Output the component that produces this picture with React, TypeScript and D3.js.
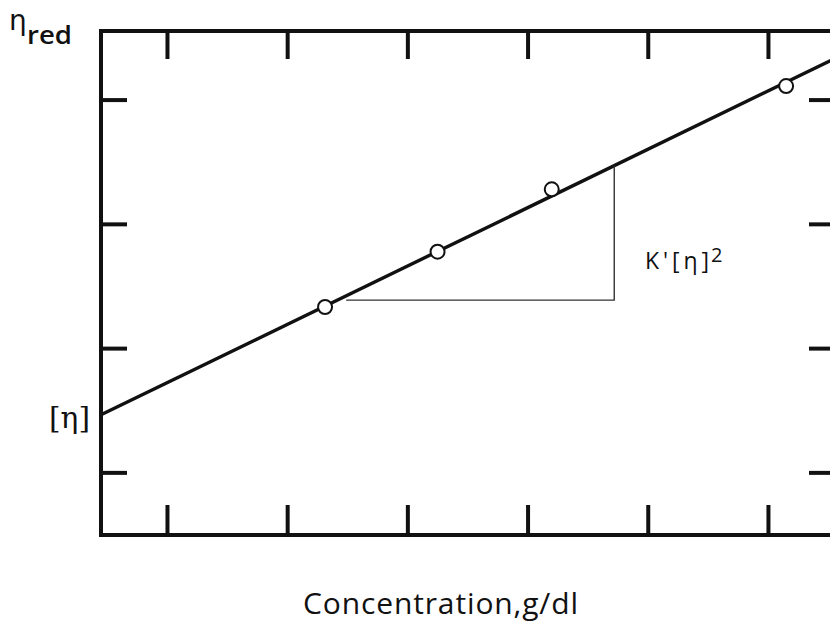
import React from "react";
import * as d3 from "d3";

// Concentration (arbitrary units, one tick spacing = 1) and reduced viscosity (tick units)
const xTicks = [0.553, 1.553, 2.553, 3.553, 4.553, 5.553];
const yTicks = [1, 2, 3, 4];
const pointsC = [1.864, 2.8, 3.75, 5.7];
const pointsEta = [2.335, 2.78, 3.282, 4.113];
const fitIntercept = 1.467;
const fitSlope = 0.4696;
const fitRange = [0, 6.1];
const triangleC = [2.04, 4.27];
const triangleBase = 2.39;

const W = 830;
const H = 624;

export default function App() {
  const x = d3.scaleLinear().domain([0, 6.09]).range([101, 833]);
  const y = d3.scaleLinear().domain([0.5, 4.556]).range([535, 31]);
  const fit = (c: number) => fitIntercept + fitSlope * c;
  const line = d3
    .line<number>()
    .x((c) => x(c))
    .y((c) => y(fit(c)));
  const ink = "#111";
  const [x0, x1] = x.range();
  const [yb, yt] = y.range();
  return (
    <svg
      width={W}
      height={H}
      style={{ position: "absolute", left: 0, top: 0, background: "#fff" }}
    >
      <rect x={0} y={0} width={W} height={H} fill="#fff" />
      {/* fit line */}
      <path d={line(fitRange) || ""} fill="none" stroke={ink} strokeWidth={3.4} />
      {/* slope triangle */}
      <path
        d={`M${x(triangleC[0])},${y(triangleBase)}H${x(triangleC[1])}V${y(fit(triangleC[1]))}`}
        fill="none"
        stroke="#333"
        strokeWidth={1.4}
      />
      {/* frame */}
      <rect
        x={x0}
        y={yt}
        width={x1 - x0}
        height={yb - yt}
        fill="none"
        stroke={ink}
        strokeWidth={4}
      />
      {xTicks.map((t) => (
        <g key={"xt" + t}>
          <line x1={x(t)} x2={x(t)} y1={yt} y2={yt + 28} stroke={ink} strokeWidth={4} />
          <line x1={x(t)} x2={x(t)} y1={yb} y2={yb - 30} stroke={ink} strokeWidth={4} />
        </g>
      ))}
      {yTicks.map((t) => (
        <g key={"yt" + t}>
          <line x1={x0} x2={x0 + 26} y1={y(t)} y2={y(t)} stroke={ink} strokeWidth={4} />
          <line x1={x1} x2={x1 - 24} y1={y(t)} y2={y(t)} stroke={ink} strokeWidth={4} />
        </g>
      ))}
      {/* data points */}
      {pointsC.map((c, i) => (
        <circle
          key={"p" + i}
          cx={x(c)}
          cy={y(pointsEta[i])}
          r={7}
          fill="#fff"
          stroke={ink}
          strokeWidth={2}
        />
      ))}
      {/* labels */}
      <text x={9} y={30} fontFamily="DejaVu Sans" fontSize={28} fill={ink}>
        η
      </text>
      <text
        x={27}
        y={44}
        fontFamily="Open Sans"
        fontSize={25}
        fontWeight={600}
        fill={ink}
        textLength={45}
        lengthAdjust="spacingAndGlyphs"
      >
        red
      </text>
      <text
        x={49}
        y={428}
        fontFamily="DejaVu Serif"
        fontSize={30}
        fill={ink}
        textLength={41}
        lengthAdjust="spacingAndGlyphs"
      >
        [η]
      </text>
      <text
        x={645}
        y={269}
        fontFamily="Open Sans"
        fontSize={23}
        fill={ink}
        textLength={64}
        lengthAdjust="spacing"
      >
        K'[η]
      </text>
      <text x={711} y={262} fontFamily="Open Sans" fontSize={20} fill={ink}>
        2
      </text>
      <text
        x={303}
        y={614}
        fontFamily="Open Sans"
        fontSize={30}
        fill={ink}
        textLength={275}
        lengthAdjust="spacing"
      >
        Concentration,g/dl
      </text>
    </svg>
  );
}
